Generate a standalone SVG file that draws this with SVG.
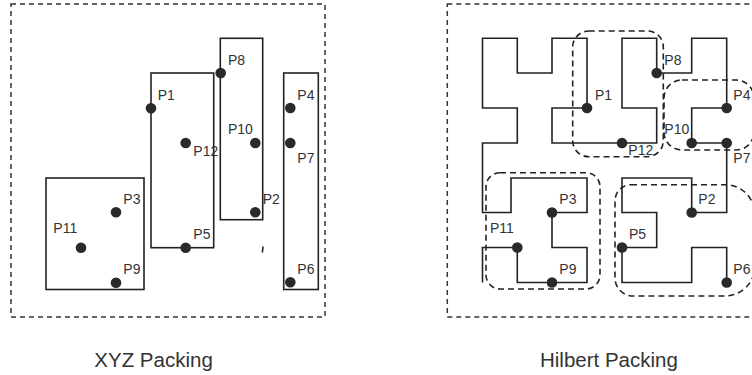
<svg xmlns="http://www.w3.org/2000/svg" width="752" height="375" viewBox="0 0 752 375">
<style>
.frame{fill:none;stroke:#333;stroke-width:1.5;stroke-dasharray:5 4}
.grp{fill:none;stroke:#222;stroke-width:1.6;stroke-dasharray:6 4}
.box{fill:none;stroke:#222;stroke-width:1.6}
.curve{fill:none;stroke:#222;stroke-width:1.6;stroke-linejoin:miter}
.dot{fill:#2a2a2a}
.lbl{font-family:"Liberation Sans",Arial,sans-serif;font-size:14px;fill:#333}
.cap{font-family:"Liberation Sans",Arial,sans-serif;font-size:20.5px;fill:#333}
</style>
<rect width="752" height="375" fill="#fff"/>

<g id="xyz-panel">
  <rect class="frame" x="11" y="4" width="314" height="313"/>
  <g id="xyz-boxes">
    <rect id="xyz-box-a" class="box" x="46" y="178" width="98" height="111.5"/>
    <rect id="xyz-box-b" class="box" x="151" y="73" width="62.7" height="174.7"/>
    <rect id="xyz-box-c" class="box" x="220.3" y="38.3" width="42.4" height="181.4"/>
    <rect id="xyz-box-d" class="box" x="283.7" y="73" width="34.6" height="216.5"/>
    <line class="box" x1="263" y1="246.5" x2="262.4" y2="252.5"/>
  </g>
  <g id="xyz-P8"><circle class="dot" cx="220.7" cy="73" r="5.3"/><text class="lbl" x="228" y="64.7">P8</text></g>
  <g id="xyz-P1"><circle class="dot" cx="151" cy="108.3" r="5.3"/><text class="lbl" x="157.7" y="100.3">P1</text></g>
  <g id="xyz-P12"><circle class="dot" cx="185.7" cy="143" r="5.3"/><text class="lbl" x="193.3" y="155.7">P12</text></g>
  <g id="xyz-P10"><circle class="dot" cx="255.3" cy="143" r="5.3"/><text class="lbl" x="228" y="134.3">P10</text></g>
  <g id="xyz-P4"><circle class="dot" cx="290.3" cy="108" r="5.3"/><text class="lbl" x="297.3" y="100.3">P4</text></g>
  <g id="xyz-P7"><circle class="dot" cx="290.3" cy="143" r="5.3"/><text class="lbl" x="297.3" y="162.7">P7</text></g>
  <g id="xyz-P2"><circle class="dot" cx="255.3" cy="212.3" r="5.3"/><text class="lbl" x="262.7" y="204.3">P2</text></g>
  <g id="xyz-P3"><circle class="dot" cx="116" cy="212.3" r="5.3"/><text class="lbl" x="123.3" y="204.3">P3</text></g>
  <g id="xyz-P11"><circle class="dot" cx="81" cy="247.7" r="5.3"/><text class="lbl" x="53.3" y="233.3">P11</text></g>
  <g id="xyz-P5"><circle class="dot" cx="185.7" cy="247.7" r="5.3"/><text class="lbl" x="193.3" y="239.3">P5</text></g>
  <g id="xyz-P9"><circle class="dot" cx="116" cy="282.7" r="5.3"/><text class="lbl" x="123.3" y="274">P9</text></g>
  <g id="xyz-P6"><circle class="dot" cx="290.3" cy="282.3" r="5.3"/><text class="lbl" x="297.3" y="274">P6</text></g>
  <text class="cap" x="94.3" y="367.3">XYZ Packing</text>
</g>

<g id="hilbert-panel">
  <rect class="frame" x="447.3" y="4" width="314" height="313"/>
  <g id="connectors">
    <path id="hilbert-curve" class="curve" d="M482.5,282.5 L482.5,247.5 L517.3,247.5 L517.3,282.5 L587,282.5 L587,247.5 L552,247.5 L552,212.5 L587,212.5 L587,178 L511,178 L511,212.5 L482.5,212.5 L482.5,143 L517.3,143 L517.3,108 L482.5,108 L482.5,38.3 L517.3,38.3 L517.3,73 L552,73 L552,38.3 L587,38.3 L587,108 L552,108 L552,143 L656.7,143 L656.7,108 L622,108 L622,38.3 L656.7,38.3 L656.7,73 L691.7,73 L691.7,38.3 L726.7,38.3 L726.7,108 L691.7,108 L691.7,143 L726.7,143 L726.7,212.5 L691.7,212.5 L691.7,178 L622,178 L622,212.5 L656.7,212.5 L656.7,247.5 L622,247.5 L622,282.5 L691.7,282.5 L691.7,247.5 L726.7,247.5 L726.7,282.5"/>
  </g>
  <g id="hilbert-groups">
    <rect id="grp-1" class="grp" x="572.7" y="31" width="90.6" height="125.7" rx="16"/>
    <rect id="grp-2" class="grp" x="664" y="80" width="90" height="70" rx="18"/>
    <rect id="grp-3" class="grp" x="486" y="172.7" width="114" height="116.3" rx="14"/>
    <path id="grp-4" class="grp" d="M631,184.7 L725,184.7 A30,30 0 0 1 755,214.7 L755,266 A30,30 0 0 1 725,296 L633,296 A18,18 0 0 1 615,278 L615,200.7 A16,16 0 0 1 631,184.7 Z"/>
  </g>
  <g id="h-P11"><circle class="dot" cx="517.3" cy="247.5" r="5.3"/><text class="lbl" x="490" y="233.3">P11</text></g>
  <g id="h-P9"><circle class="dot" cx="552" cy="282.5" r="5.3"/><text class="lbl" x="559.3" y="274">P9</text></g>
  <g id="h-P3"><circle class="dot" cx="552" cy="212.5" r="5.3"/><text class="lbl" x="559.3" y="204.3">P3</text></g>
  <g id="h-P1"><circle class="dot" cx="587" cy="108" r="5.3"/><text class="lbl" x="595" y="100.3">P1</text></g>
  <g id="h-P12"><circle class="dot" cx="622" cy="143" r="5.3"/><text class="lbl" x="628.3" y="155.3">P12</text></g>
  <g id="h-P8"><circle class="dot" cx="656.7" cy="73" r="5.3"/><text class="lbl" x="664.3" y="65">P8</text></g>
  <g id="h-P4"><circle class="dot" cx="726.7" cy="108" r="5.3"/><text class="lbl" x="733.3" y="100.3">P4</text></g>
  <g id="h-P10"><circle class="dot" cx="691.7" cy="143" r="5.3"/><text class="lbl" x="664.3" y="134.3">P10</text></g>
  <g id="h-P7"><circle class="dot" cx="726.7" cy="143" r="5.3"/><text class="lbl" x="733.3" y="162.7">P7</text></g>
  <g id="h-P2"><circle class="dot" cx="691.7" cy="212.5" r="5.3"/><text class="lbl" x="698.3" y="204.3">P2</text></g>
  <g id="h-P5"><circle class="dot" cx="622" cy="247.5" r="5.3"/><text class="lbl" x="629" y="239.3">P5</text></g>
  <g id="h-P6"><circle class="dot" cx="726.7" cy="282.5" r="5.3"/><text class="lbl" x="733.3" y="274">P6</text></g>
  <text class="cap" x="540" y="367.3">Hilbert Packing</text>
</g>
</svg>
